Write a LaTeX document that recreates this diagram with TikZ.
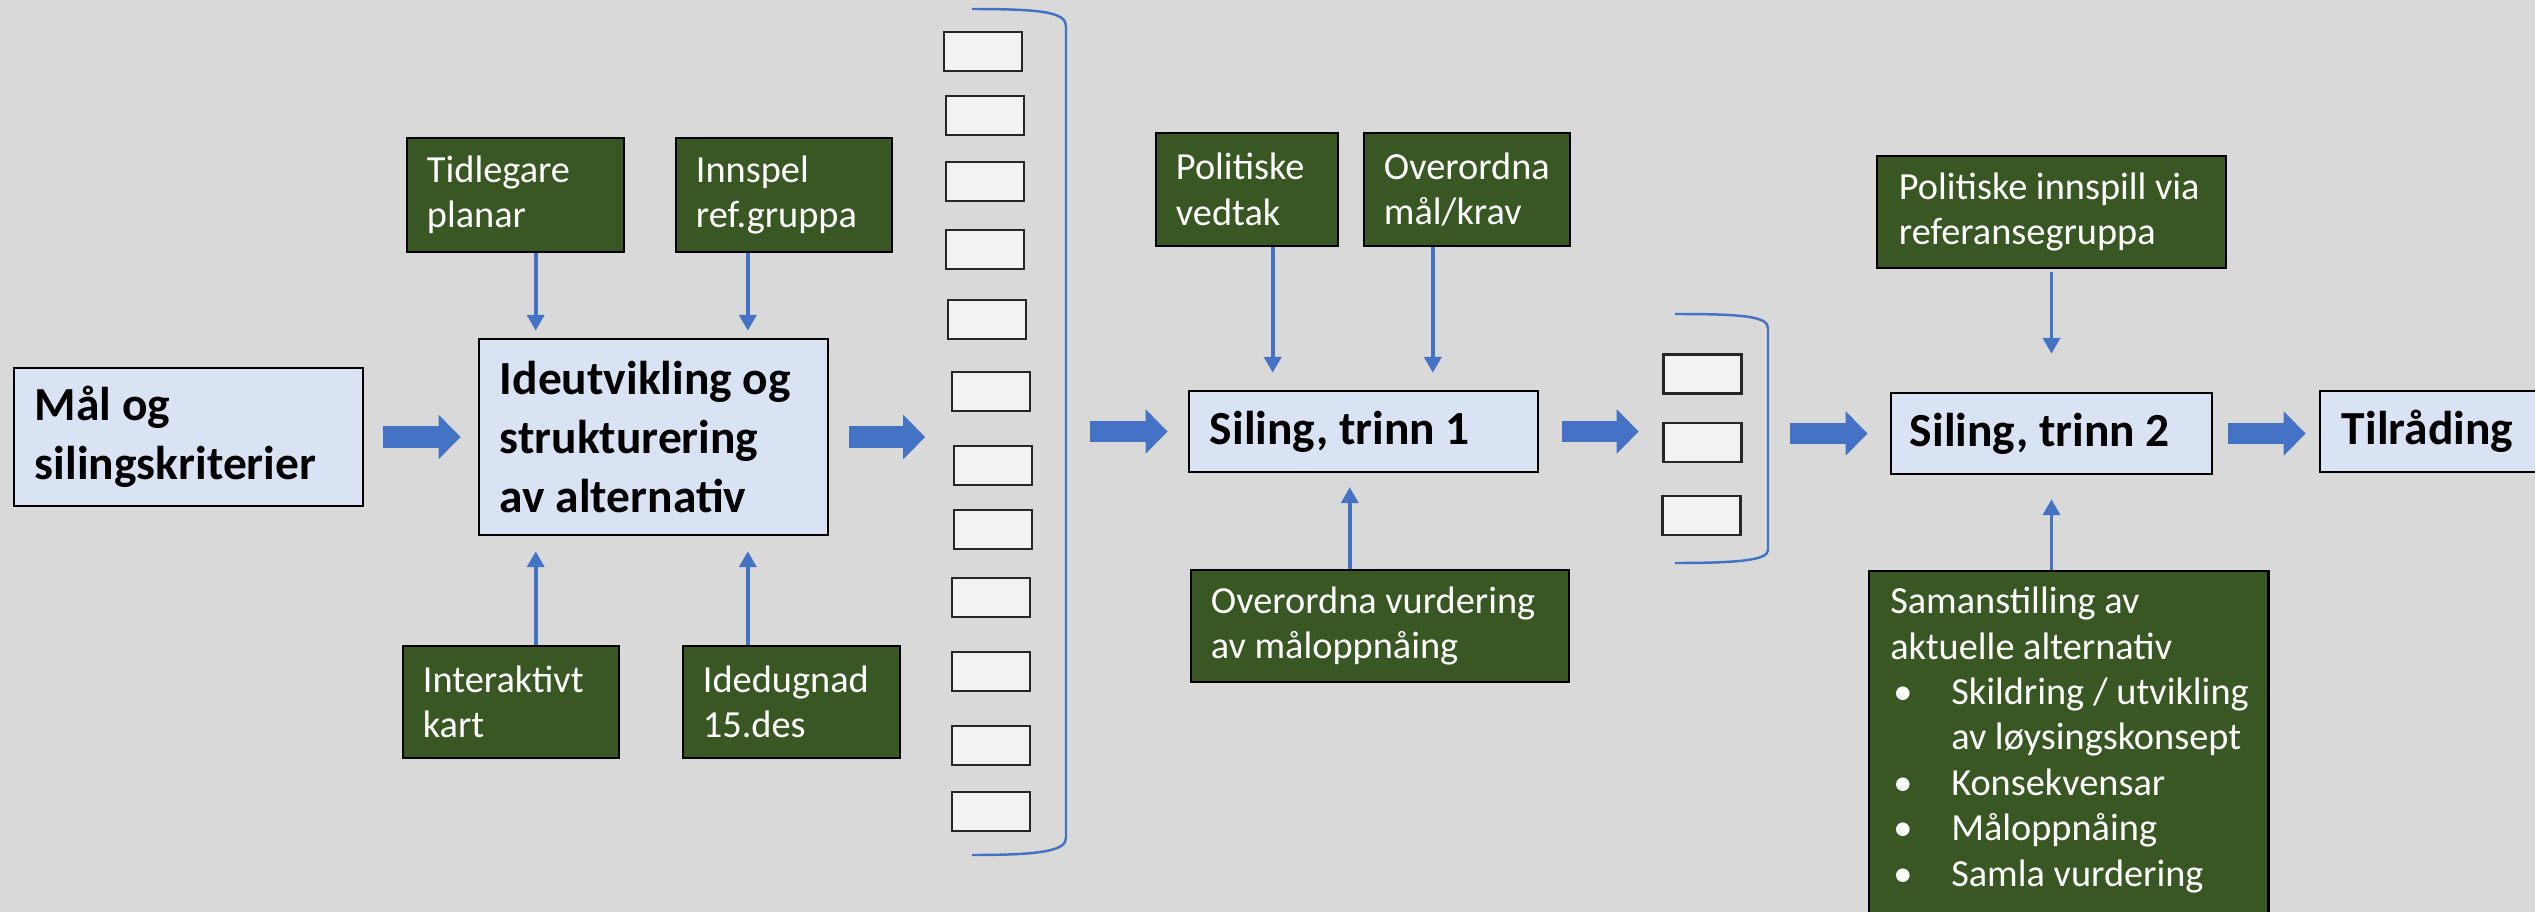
\documentclass[tikz,border=0pt]{standalone}
\usepackage{fontspec}
\setmainfont{Carlito}
\usetikzlibrary{arrows.meta,fit}
\definecolor{bg}{HTML}{D9D9D9}
\definecolor{boxblue}{HTML}{DAE3F3}
\definecolor{boxgreen}{HTML}{385723}
\definecolor{arrowblue}{HTML}{4472C4}
\definecolor{altgrey}{HTML}{F2F2F2}
\newcommand\bul[1]{\makebox[.61cm][l]{\hspace{.03cm}\textbullet}\mbox{#1}}
\newcommand\bulrest[1]{\hspace*{.61cm}\mbox{#1}}
\begin{document}
\begin{tikzpicture}[x=0.01cm,y=-0.01cm,
  main/.style={draw=black,line width=.7pt,fill=boxblue,font=\fontsize{13.5}{16.8}\selectfont\bfseries,align=flush left,inner xsep=.21cm,inner ysep=0pt},
  input/.style={draw=black,line width=.7pt,fill=boxgreen,text=white,font=\fontsize{10.9}{12.9}\selectfont,align=flush left,inner xsep=.2cm,inner ysep=0pt},
  alt/.style={draw=black!85,line width=.6pt,fill=altgrey,minimum width=.78cm,minimum height=.39cm,inner sep=0pt},
  bigarrow/.style={arrowblue,line width=.21cm,-{Triangle[length=.22cm,width=.43cm]}},
  thinarrow/.style={arrowblue,line width=1.1pt,-{Triangle[length=4.5pt,width=4.8pt]}},
  bracket/.style={arrowblue,line width=.7pt}]
\useasboundingbox (0,0) rectangle (2535,912);
\fill[bg] (0,0) rectangle (2535,912);
\node[main,text width=3.07cm,minimum height=1.38cm] (mal) at (188.5,437) {Mål og\\silingskriterier};
\node[main,text width=3.07cm,minimum height=1.96cm] (ide) at (653.5,437) {Ideutvikling og\\strukturering\\av alternativ};
\node[input,text width=1.77cm,minimum height=1.14cm] (tidl) at (515.5,195) {Tidlegare\\planar};
\node[input,text width=1.76cm,minimum height=1.14cm] (innsp) at (784,195) {Innspel\\ref.gruppa};
\node[input,text width=1.76cm,minimum height=1.12cm] (inter) at (511,702) {Interaktivt\\kart};
\node[input,text width=1.77cm,minimum height=1.12cm] (idedug) at (791.5,702) {Idedugnad\\15.des};
\foreach \x/\y [count=\i] in {983/51.5,985/115.5,985/181.5,985/249.5,987/319.5,991/391.5,993/465.5,993/529.5,991/597.5,991/671.5,991/745.5,991/811.5}
  \node[alt] (r\i) at (\x,\y) {};
\coordinate (brc) at (1066,431);
\node[fit=(r1)(r12)(brc),inner sep=0pt] (alts) {};
\draw[bracket] (972,9) .. controls (1040,9) and (1066,12) .. (1066,26) -- (1066,838) .. controls (1066,851) and (1040,855) .. (972,855);
\node[main,text width=3.07cm,minimum height=.81cm] (sil1) at (1363.5,431.5) {Siling, trinn 1};
\node[input,text width=1.42cm,minimum height=1.13cm] (pol) at (1247,189.5) {Politiske\\vedtak};
\node[input,text width=1.66cm,minimum height=1.13cm] (overk) at (1467,189.5) {Overordna\\mål/krav};
\node[input,text width=3.38cm,minimum height=1.12cm] (overv) at (1380,626) {Overordna vurdering\\av måloppnåing};
\foreach \x/\y [count=\i] in {1702.5/374,1702.5/442.5,1701.5/515.5}
  \node[alt] (s\i) at (\x,\y) {};
\coordinate (brc2) at (1768,438);
\node[fit=(s1)(s3)(brc2),inner sep=0pt] (alts2) {};
\draw[bracket] (1675,314) .. controls (1740,314) and (1768,316) .. (1768,328) -- (1768,550) .. controls (1768,560) and (1740,563) .. (1675,563);
\node[main,text width=2.83cm,inner xsep=.19cm,minimum height=.81cm] (sil2) at (2051.5,433.5) {Siling, trinn 2};
\node[main,text width=1.76cm,inner xsep=.22cm,minimum height=.81cm] (tilr) at (2430,431.5) {Tilråding};
\node[input,text width=3.05cm,inner xsep=.22cm,minimum height=1.12cm] (polinn) at (2051.5,212) {Politiske innspill via\\referansegruppa};
\node[input,text width=3.57cm,inner xsep=.21cm,inner ysep=.16cm,anchor=north west] (saman) at (1868,570) {Samanstilling av\\aktuelle alternativ\\\bul{Skildring / utvikling}\\\bulrest{av løysingskonsept}\\\bul{Konsekvensar}\\\bul{Måloppnåing}\\\bul{Samla vurdering}\rule[-.3cm]{0pt}{0pt}};
\coordinate (ia) at ([xshift=.58cm]ide.north west);
\coordinate (ib) at ([xshift=2.70cm]ide.north west);
\coordinate (ic) at ([xshift=.58cm]ide.south west);
\coordinate (id) at ([xshift=2.70cm]ide.south west);
\coordinate (sa) at ([xshift=.85cm]sil1.north west);
\coordinate (sb) at ([xshift=2.45cm]sil1.north west);
\coordinate (sc) at ([xshift=1.62cm]sil1.south west);
\draw[thinarrow,shorten >=.07cm] (tidl.south -| ia) -- (ia);
\draw[thinarrow,shorten >=.07cm] (innsp.south -| ib) -- (ib);
\draw[thinarrow,shorten >=.15cm] (inter.north -| ic) -- (ic);
\draw[thinarrow,shorten >=.15cm] (idedug.north -| id) -- (id);
\draw[thinarrow,shorten >=.17cm] (pol.south -| sa) -- (sa);
\draw[thinarrow,shorten >=.17cm] (overk.south -| sb) -- (sb);
\draw[thinarrow,shorten >=.14cm] (overv.north -| sc) -- (sc);
\draw[thinarrow,shorten <=.03cm,shorten >=.38cm] (polinn.south) -- (sil2.north);
\draw[thinarrow,shorten >=.24cm] (saman.north -| sil2.south) -- (sil2.south);
\draw[bigarrow,shorten <=.19cm,shorten >=.17cm] (mal) -- (ide);
\draw[bigarrow,shorten <=.2cm,shorten >=.17cm] (ide.east) -- (ide.east -| alts.west);
\draw[bigarrow,shorten <=.23cm,shorten >=.2cm] (alts.east |- sil1.west) -- (sil1.west);
\draw[bigarrow,shorten <=.23cm,shorten >=.22cm] (sil1.east) -- (sil1.east -| alts2.west);
\draw[bigarrow,shorten <=.21cm,shorten >=.22cm] (alts2.east |- sil2.west) -- (sil2.west);
\draw[bigarrow,shorten <=.15cm,shorten >=.13cm] (sil2.east) -- (sil2.east -| tilr.west);
\end{tikzpicture}
\end{document}
